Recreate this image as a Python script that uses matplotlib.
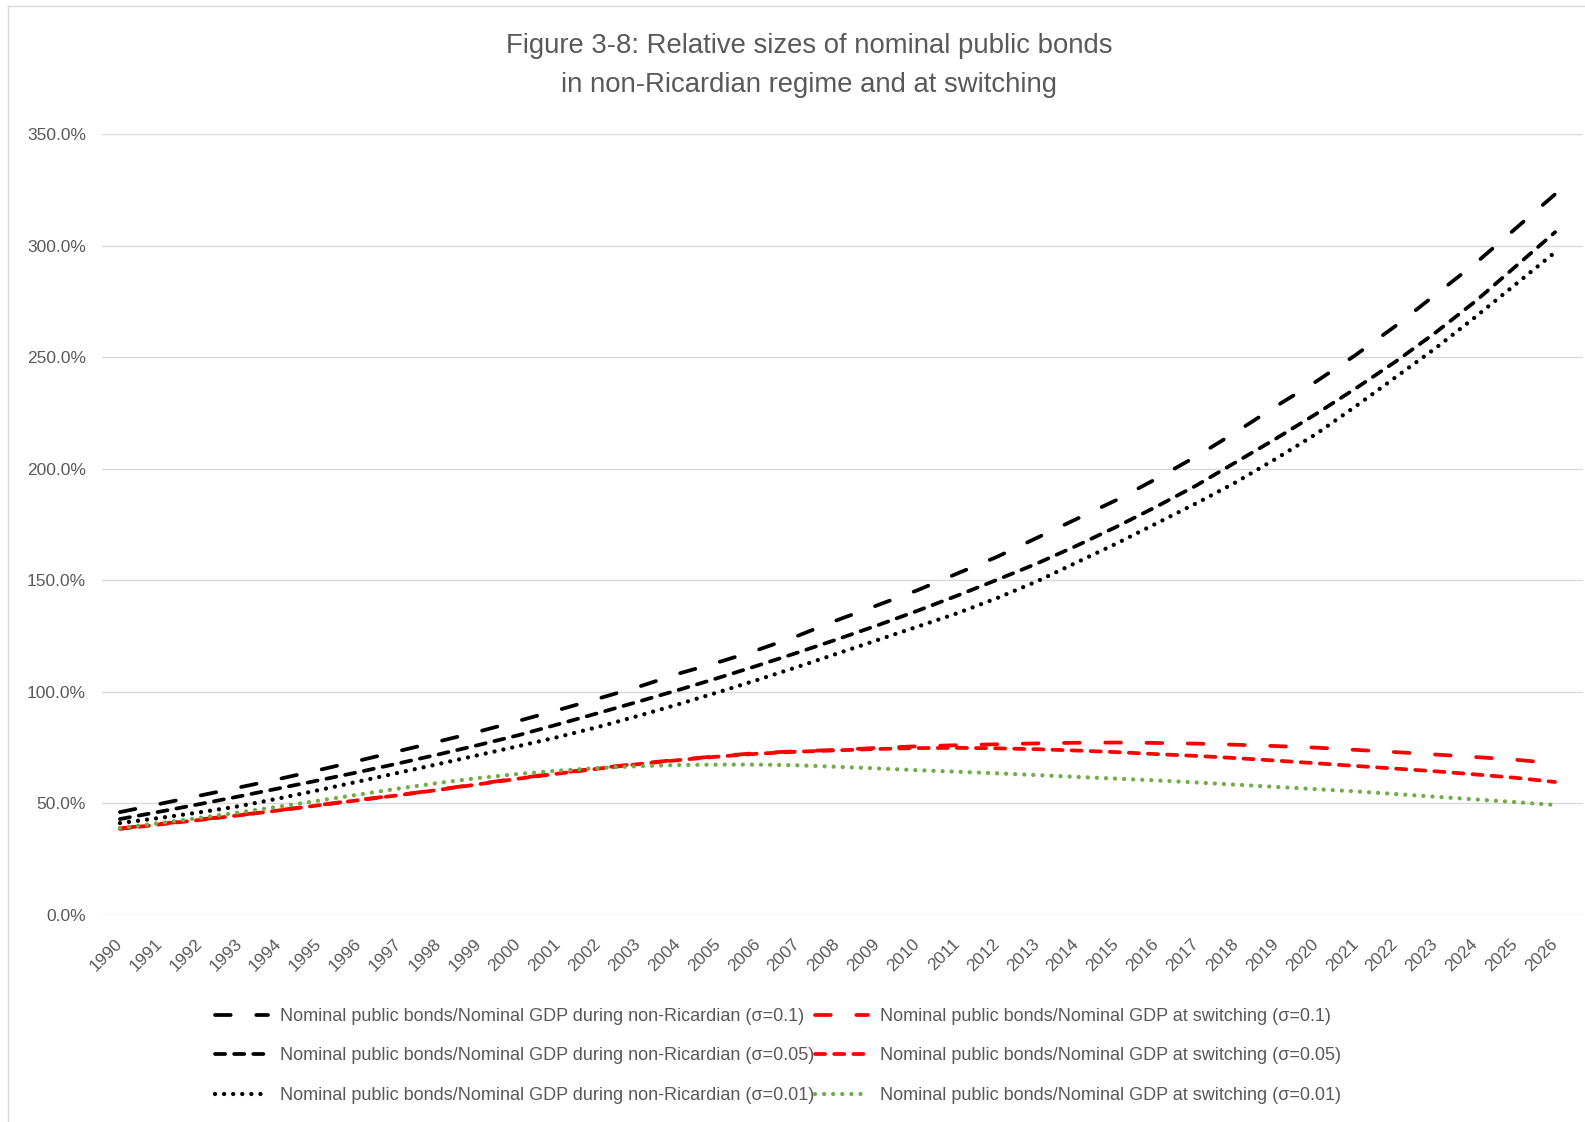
import matplotlib
matplotlib.use('Agg')
import matplotlib.pyplot as plt
from matplotlib.lines import Line2D

plt.rcParams['font.family'] = ['Liberation Sans', 'DejaVu Sans']

years = list(range(1990, 2027))

# nominal public bonds / nominal GDP during non-Ricardian regime (%)
nr_01 = [46.1, 49.8, 53.5, 57.2, 61.0, 65.0, 69.2, 73.5, 77.8, 82.2,
         87.0, 91.9, 97.0, 102.2, 108.1, 113.2, 118.8, 125.1, 132.2, 138.8,
         145.5, 153.0, 160.5, 169.0, 177.5, 186.0, 195.5, 205.5, 216.5, 228.0,
         239.0, 251.0, 264.0, 278.0, 292.0, 307.5, 323.0]
nr_005 = [43.0, 46.3, 49.7, 53.2, 56.8, 60.4, 64.1, 68.0, 72.0, 76.2,
          80.6, 85.5, 90.5, 95.6, 100.8, 106.2, 111.8, 117.6, 123.6, 129.8,
          136.3, 143.1, 150.2, 157.5, 165.5, 174.0, 183.0, 192.5, 203.0, 213.5,
          224.5, 236.0, 248.0, 261.0, 275.0, 290.5, 306.0]
nr_001 = [41.2, 43.5, 46.0, 48.8, 52.3, 56.0, 59.9, 63.8, 67.7, 71.7,
          75.7, 79.8, 84.3, 89.2, 94.4, 99.8, 105.4, 111.2, 117.2, 123.2,
          129.2, 135.2, 142.0, 149.5, 158.0, 166.5, 175.5, 184.5, 194.0, 204.5,
          215.5, 228.0, 241.0, 254.0, 268.0, 282.5, 297.0]

# nominal public bonds / nominal GDP at switching (%)
sw_01 = [38.8, 40.8, 42.8, 44.8, 47.0, 49.3, 51.6, 53.8, 56.2, 58.8,
         61.3, 63.6, 65.8, 67.8, 69.6, 71.2, 72.6, 73.4, 74.0, 74.9,
         75.6, 76.1, 76.5, 76.9, 77.2, 77.3, 77.1, 76.8, 76.3, 75.7,
         75.0, 74.0, 73.0, 71.9, 70.8, 69.6, 68.0]
sw_005 = [38.6, 40.6, 42.6, 44.7, 46.9, 49.2, 51.5, 53.7, 56.1, 58.6,
          61.1, 63.4, 65.6, 67.6, 69.4, 71.0, 72.3, 73.2, 73.8, 74.4,
          74.8, 74.9, 74.7, 74.3, 73.7, 73.0, 72.1, 71.3, 70.3, 69.2,
          68.0, 66.8, 65.6, 64.4, 63.0, 61.5, 59.6]
sw_001 = [39.0, 41.2, 43.5, 46.0, 48.6, 51.3, 54.0, 56.7, 59.2, 61.4,
          63.2, 64.7, 65.9, 66.7, 67.2, 67.4, 67.4, 67.1, 66.4, 65.7,
          64.9, 64.2, 63.5, 62.7, 61.9, 61.1, 60.3, 59.4, 58.4, 57.4,
          56.4, 55.4, 54.2, 53.0, 51.8, 50.6, 49.3]

labels_nr = ['Nominal public bonds/Nominal GDP during non-Ricardian (\u03c3=0.1)',
             'Nominal public bonds/Nominal GDP during non-Ricardian (\u03c3=0.05)',
             'Nominal public bonds/Nominal GDP during non-Ricardian (\u03c3=0.01)']
labels_sw = ['Nominal public bonds/Nominal GDP at switching (\u03c3=0.1)',
             'Nominal public bonds/Nominal GDP at switching (\u03c3=0.05)',
             'Nominal public bonds/Nominal GDP at switching (\u03c3=0.01)']

grey = '#595959'
# (linestyle, linewidth)
long_dash = ((0, (4.2, 6.8)), 2.7)
short_dash = ((0, (2.7, 2.4)), 2.7)
dots = ((0, (0.01, 2.1)), 3.1)

fig = plt.figure(figsize=(15.85, 11.22), dpi=100)
ax = fig.add_axes([102 / 1585, 1 - 915 / 1122, 1481 / 1585, (915 - 134) / 1122])

series = [
    (nr_01, 'black', long_dash, labels_nr[0]),
    (nr_005, 'black', short_dash, labels_nr[1]),
    (nr_001, 'black', dots, labels_nr[2]),
    (sw_01, '#FF0000', long_dash, labels_sw[0]),
    (sw_005, '#FF0000', short_dash, labels_sw[1]),
    (sw_001, '#70AD47', dots, labels_sw[2]),
]
handles = []
for vals, col, (ls, lw), lab in series:
    h, = ax.plot(years, vals, color=col, linestyle=ls, lw=lw,
                 dash_capstyle='round', label=lab)
    handles.append(h)

ax.set_ylim(0, 350)
ax.set_xlim(1989.55, 2026.7)
ax.set_yticks(range(0, 351, 50))
ax.set_yticklabels([f'{v:.1f}%' for v in range(0, 351, 50)])
ax.set_xticks(years)
ax.set_xticklabels([str(y) for y in years], rotation=45, ha='right',
                   va='center', rotation_mode='anchor')
ax.tick_params(axis='both', length=0, colors=grey, labelsize=12.5)
ax.tick_params(axis='y', pad=11.5)
ax.tick_params(axis='x', pad=19)
ax.yaxis.grid(True, color='#D9D9D9', lw=1.0)
ax.set_axisbelow(True)
for s in ax.spines.values():
    s.set_visible(False)

fig.text(809 / 1585, 1 - 53 / 1122, 'Figure 3-8: Relative sizes of nominal public bonds',
         ha='center', va='baseline', fontsize=19.8, color=grey)
fig.text(809 / 1585, 1 - 92 / 1122, 'in non-Ricardian regime and at switching',
         ha='center', va='baseline', fontsize=19.8, color=grey)

leg_kw = dict(loc='center left', frameon=False, fontsize=13, borderpad=0,
              borderaxespad=0, handlelength=2.94, handletextpad=0.67,
              labelspacing=1.24, labelcolor=grey)
fig.legend(handles[:3], labels_nr, bbox_to_anchor=(215 / 1585, 1 - 1056 / 1122), **leg_kw)
fig.legend(handles[3:], labels_sw, bbox_to_anchor=(815 / 1585, 1 - 1056 / 1122), **leg_kw)

# outer chart border (top and left edges visible in the crop)
fig.add_artist(Line2D([8 / 1585, 1], [1 - 6 / 1122, 1 - 6 / 1122],
                      transform=fig.transFigure, color='#D9D9D9', lw=1))
fig.add_artist(Line2D([8 / 1585, 8 / 1585], [0, 1 - 6 / 1122],
                      transform=fig.transFigure, color='#D9D9D9', lw=1))

fig.savefig('out.png', dpi=100)
